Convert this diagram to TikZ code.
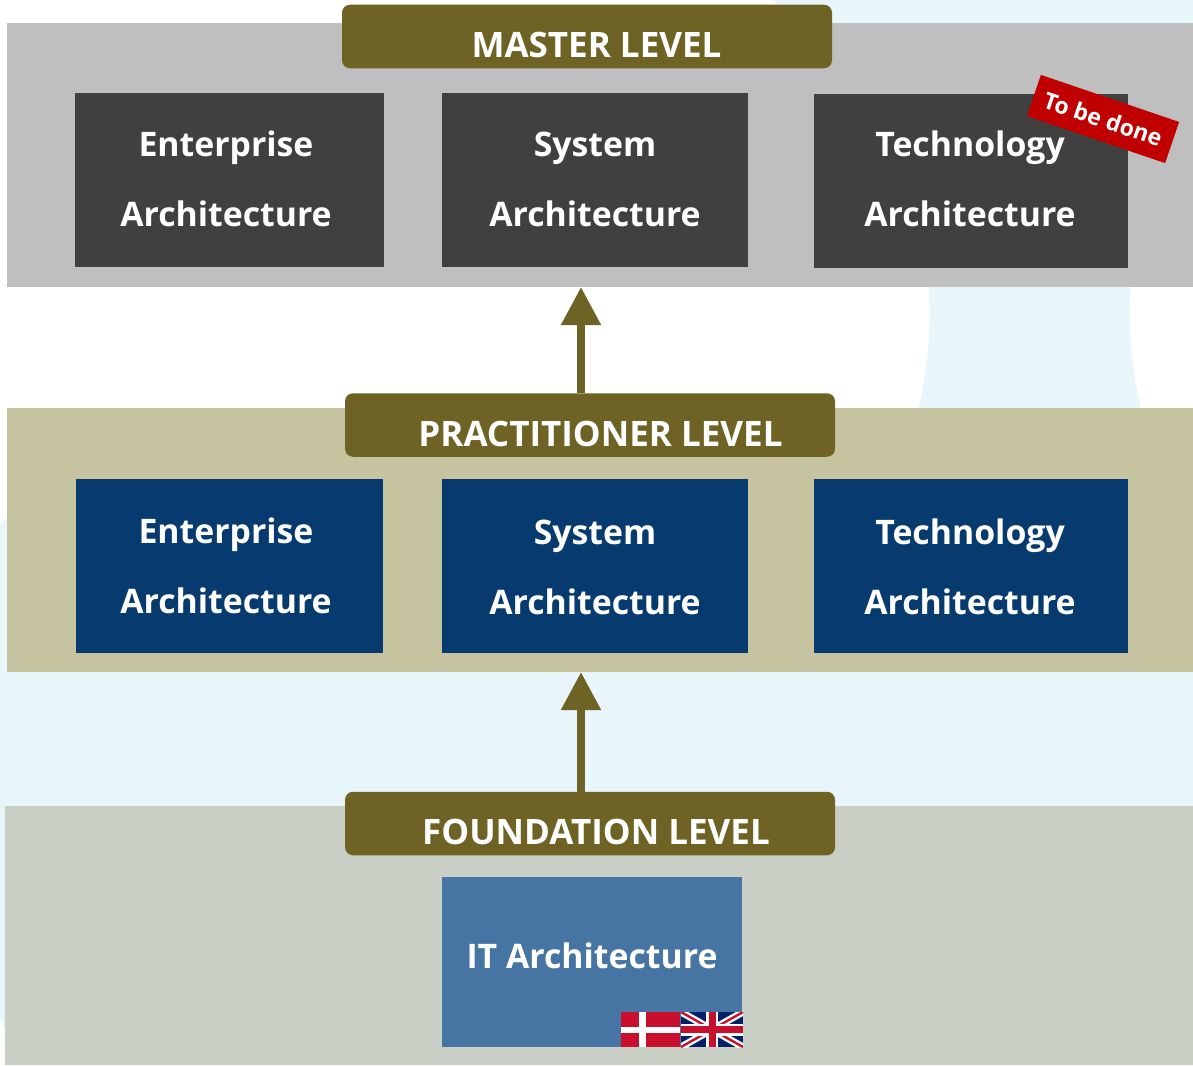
\documentclass[tikz,border=0pt]{standalone}
\usepackage{fontspec}
\setmainfont{Open Sans}
\usetikzlibrary{arrows.meta}
\definecolor{skyblob}{HTML}{E8F6FC}
\definecolor{masterband}{HTML}{BFBFBF}
\definecolor{practband}{HTML}{C6C3A1}
\definecolor{foundband}{HTML}{C9CFC5}
\definecolor{olivebar}{HTML}{6E6325}
\definecolor{darkbox}{HTML}{404040}
\definecolor{navybox}{HTML}{073B6F}
\definecolor{steelbox}{HTML}{4775A3}
\definecolor{redtag}{HTML}{C00000}
\definecolor{dkred}{HTML}{C8102E}
\definecolor{ukblue}{HTML}{012169}
% text placed with its last baseline #2 below the node centre, shifted #1 sideways
\newcommand\oneline[3]{\raisebox{-#2}[0pt][0pt]{\hbox to 0pt{\hss\kern#1\relax #3\kern-#1\relax\hss}}}
\newcommand\twolines[4]{\raisebox{-#2}[0pt][0pt]{\hbox to 0pt{\hss\kern#1\relax\vbox{\baselineskip=70pt\lineskiplimit=-100pt\halign{\hfil##\hfil\cr #3\cr #4\cr}}\kern-#1\relax\hss}}}
\tikzset{
  band/.style={rectangle,inner sep=0pt,outer sep=0pt},
  archbox/.style={rectangle,inner sep=0pt,outer sep=0pt,text=white,font=\fontsize{33.8}{33.8}\selectfont\bfseries},
  levelbar/.style={rectangle,rounded corners=8pt,fill=olivebar,inner sep=0pt,outer sep=0pt,minimum width=490pt,minimum height=63.5pt,text=white,font=\fontsize{35}{35}\selectfont\bfseries},
  levelarrow/.style={draw=olivebar,line width=8pt,-{Triangle[length=38pt,width=38pt]}},
}
\begin{document}
\begin{tikzpicture}[x=1pt,y=-1pt]
\useasboundingbox (0,0) rectangle (1193,1065);
\fill[white] (0,0) rectangle (1193,1065);
% pale background blobs
\fill[skyblob] (773,0) .. controls (785,10) and (795,18) .. (805,30) -- (1193,30) -- (1193,0) -- cycle;
\fill[skyblob] (928,280) .. controls (931,320) and (930,360) .. (918,410) -- (1141,410) .. controls (1130,360) and (1127,320) .. (1131,280) -- cycle;
\fill[skyblob] (0,525) .. controls (3,522) and (5,519) .. (10,516) -- (10,1030) -- (5,1030) .. controls (3,1025) and (2,1021) .. (0,1017) -- cycle;
\fill[skyblob] (0,665) rectangle (1193,815);
% bands
\node[band,fill=masterband,minimum width=1186pt,minimum height=264pt] (masterband) at (600,155) {};
\node[band,fill=practband,minimum width=1186pt,minimum height=264pt] (practband) at (600,540) {};
\node[band,fill=foundband,minimum width=1188pt,minimum height=259pt] (foundband) at (599,935.5) {};
% master boxes
\node[archbox,fill=darkbox,minimum width=309pt,minimum height=174pt] (mEA) at (229.5,180) {\twolines{-3.5pt}{46pt}{Enterprise}{Architecture}};
\node[archbox,fill=darkbox,minimum width=306pt,minimum height=174pt] (mSA) at (595,180) {\twolines{0pt}{46pt}{System}{Architecture}};
\node[archbox,fill=darkbox,minimum width=314pt,minimum height=174pt] (mTA) at (971,181) {\twolines{-1pt}{45pt}{Technology}{Architecture}};
% practitioner boxes
\node[archbox,fill=navybox,minimum width=307pt,minimum height=174pt] (pEA) at (229.5,566) {\twolines{-3.5pt}{47pt}{Enterprise}{Architecture}};
\node[archbox,fill=navybox,minimum width=306pt,minimum height=174pt] (pSA) at (595,566) {\twolines{0pt}{48pt}{System}{Architecture}};
\node[archbox,fill=navybox,minimum width=314pt,minimum height=174pt] (pTA) at (971,566) {\twolines{-1pt}{48pt}{Technology}{Architecture}};
% foundation box
\node[archbox,fill=steelbox,minimum width=300pt,minimum height=170pt] (fIT) at (592,962) {\oneline{0pt}{6pt}{IT Architecture}};
% level bars
\node[levelbar] (masterbar) at (587,36.5) {\oneline{9.5pt}{21.5pt}{MASTER LEVEL}};
\node[levelbar] (practbar) at (590,425) {\oneline{10.5pt}{21pt}{PRACTITIONER LEVEL}};
\node[levelbar] (foundbar) at (590,823.5) {\oneline{6pt}{20.5pt}{FOUNDATION LEVEL}};
% arrows
\coordinate (axisx) at (581,0);
\draw[levelarrow] (axisx |- practbar.north) -- (axisx |- masterband.south);
\draw[levelarrow] (axisx |- foundbar.north) -- (axisx |- practband.south);
% red tag
\node[rectangle,fill=redtag,text=white,rotate=-18.8,inner sep=0pt,minimum width=146pt,minimum height=43.5pt,font=\fontsize{23}{23}\selectfont\bfseries] (todo) at (1103,119) {\raisebox{-1.5pt}{To be done}};
% Danish flag
\begin{scope}
\clip (621,1012) rectangle (680,1047);
\fill[dkred] (621,1012) rectangle (680,1047);
\fill[white] (639,1012) rectangle (646,1047);
\fill[white] (621,1026.5) rectangle (680,1032.5);
\end{scope}
% UK flag
\begin{scope}
\clip (681,1012) rectangle (743,1047);
\fill[ukblue] (681,1012) rectangle (743,1047);
\draw[white,line width=7pt] (681,1012) -- (743,1047) (681,1047) -- (743,1012);
\draw[dkred,line width=2.4pt] (681,1012) -- (743,1047) (681,1047) -- (743,1012);
\fill[white] (706,1012) rectangle (718,1047);
\fill[white] (681,1023.5) rectangle (743,1035.5);
\fill[dkred] (708.5,1012) rectangle (715.5,1047);
\fill[dkred] (681,1026) rectangle (743,1033);
\end{scope}
\end{tikzpicture}
\end{document}
